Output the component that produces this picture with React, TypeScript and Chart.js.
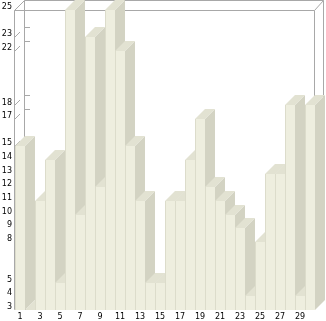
import React, { useEffect, useRef } from "react";
import { Chart, registerables } from "chart.js";

Chart.register(...registerables);

const categories = ["1","2","3","4","5","6","7","8","9","10","11","12","13","14","15","16","17","18","19","20","21","22","23","24","25","26","27","28","29","30"];
const values = [15,3,11,14,5,25,10,23,12,25,22,15,11,5,5,11,11,14,17,12,11,10,9,4,8,13,13,18,4,18];
const yTickValues = [3,4,5,8,9,10,11,12,13,14,15,17,18,22,23,25];
const xTickLabels = ["1","","3","","5","","7","","9","","11","","13","","15","","17","","19","","21","","23","","25","","27","","29",""];

const FRONT = "#eeeedf";
const SIDE = "#d3d3c3";
const TOP = "#e2e2d2";
const EDGE = "#dcdccb";
const FRAME = "#a8a8a8";
const DEPTH = 10;

const bars3d = {
  id: "bars3d",
  beforeDatasetsDraw(chart: any) {
    const { ctx, chartArea } = chart;
    const { left, right, top, bottom } = chartArea;
    const y = chart.scales.y;
    ctx.save();
    ctx.strokeStyle = FRAME;
    ctx.lineWidth = 1;
    ctx.beginPath();
    ctx.moveTo(left - 0.5, top + 0.5);
    ctx.lineTo(right - 0.5, top + 0.5);
    ctx.lineTo(right - 0.5, bottom - 0.5);
    ctx.lineTo(left - 0.5, bottom - 0.5);
    ctx.closePath();
    ctx.moveTo(left + DEPTH - 0.5, bottom - DEPTH);
    ctx.lineTo(left + DEPTH - 0.5, top - DEPTH + 0.5);
    ctx.lineTo(right + DEPTH - 1.5, top - DEPTH + 0.5);
    ctx.lineTo(right + DEPTH - 1.5, bottom - DEPTH);
    ctx.moveTo(left - 0.5, top + 0.5);
    ctx.lineTo(left + DEPTH - 0.5, top - DEPTH + 0.5);
    ctx.moveTo(right - 0.5, top + 0.5);
    ctx.lineTo(right + DEPTH - 1.5, top - DEPTH + 0.5);
    ctx.moveTo(right - 0.5, bottom - 0.5);
    ctx.lineTo(right + DEPTH - 1.5, bottom - DEPTH - 0.5);
    ctx.stroke();
    ctx.beginPath();
    for (const v of yTickValues) {
      const py = Math.round(y.getPixelForValue(v));
      ctx.moveTo(left, py);
      ctx.lineTo(left + 5, py - 5);
      ctx.moveTo(left + DEPTH, py - DEPTH + 0.5);
      ctx.lineTo(left + DEPTH + 5, py - DEPTH + 0.5);
    }
    ctx.stroke();
    ctx.restore();
  },
  afterDatasetsDraw(chart: any) {
    const { ctx, chartArea } = chart;
    const meta = chart.getDatasetMeta(0);
    const base = chartArea.bottom;
    ctx.save();
    meta.data.forEach((el: any) => {
      const x0 = Math.round(el.x - el.width / 2);
      const x1 = Math.round(el.x + el.width / 2);
      const yt = Math.round(el.y);
      ctx.fillStyle = SIDE;
      ctx.beginPath();
      ctx.moveTo(x1, yt);
      ctx.lineTo(x1 + DEPTH, yt - DEPTH);
      ctx.lineTo(x1 + DEPTH, base - DEPTH);
      ctx.lineTo(x1, base);
      ctx.closePath();
      ctx.fill();
      ctx.fillStyle = TOP;
      ctx.beginPath();
      ctx.moveTo(x0, yt);
      ctx.lineTo(x1, yt);
      ctx.lineTo(x1 + DEPTH, yt - DEPTH);
      ctx.lineTo(x0 + DEPTH, yt - DEPTH);
      ctx.closePath();
      ctx.fill();
      ctx.fillStyle = FRONT;
      ctx.fillRect(x0, yt, x1 - x0, base - yt);
      ctx.fillStyle = EDGE;
      ctx.fillRect(x0, yt, 1, base - yt);
    });
    ctx.restore();
  },
};

export default function App() {
  const ref = useRef<HTMLCanvasElement | null>(null);
  useEffect(() => {
    document.body.style.margin = "0";
    if (!ref.current) return;
    const chart = new Chart(ref.current, {
      type: "bar",
      data: {
        labels: categories,
        datasets: [
          {
            data: values,
            backgroundColor: "rgba(0,0,0,0)",
            borderWidth: 0,
            barPercentage: 1,
            categoryPercentage: 1,
          },
        ],
      },
      options: {
        animation: false,
        responsive: false,
        maintainAspectRatio: false,
        layout: { padding: { top: 10, right: 11, left: 0, bottom: 0 } },
        plugins: { legend: { display: false }, tooltip: { enabled: false } },
        scales: {
          x: {
            grid: { display: false, drawTicks: false },
            border: { display: false },
            ticks: {
              autoSkip: false,
              maxRotation: 0,
              minRotation: 0,
              padding: 2,
              color: "#000",
              font: { family: "DejaVu Sans", size: 8 },
              callback: (_v: any, i: number) => xTickLabels[i],
            },
            afterFit: (s: any) => {
              s.height = 11;
            },
          },
          y: {
            min: 3,
            max: 25,
            grid: { display: false, drawTicks: false },
            border: { display: false },
            afterBuildTicks: (s: any) => {
              s.ticks = yTickValues.map((v) => ({ value: v }));
            },
            ticks: {
              autoSkip: false,
              padding: 3,
              labelOffset: -3,
              color: "#000",
              font: { family: "DejaVu Sans", size: 8 },
            },
            afterFit: (s: any) => {
              s.width = 15;
            },
          },
        },
      },
      plugins: [bars3d],
    });
    return () => chart.destroy();
  }, []);
  return <canvas ref={ref} width={326} height={321} style={{ display: "block" }} />;
}
